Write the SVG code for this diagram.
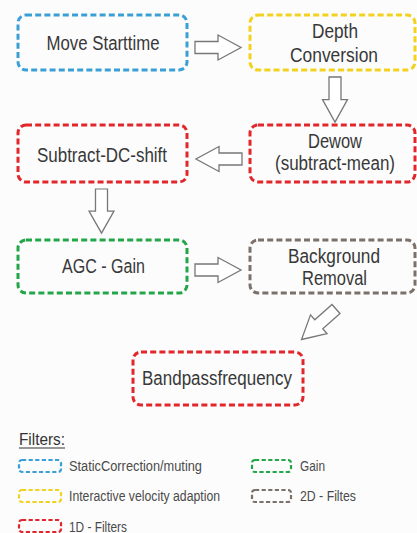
<svg xmlns="http://www.w3.org/2000/svg" width="417" height="533" viewBox="0 0 417 533">
  <defs>
    <style>
      .box { fill: none; stroke-width: 3; stroke-dasharray: 6 3.2; stroke-linecap: butt; }
      .key { fill: none; stroke-width: 2.2; stroke-dasharray: 4.2 2.4; }
      .blue { stroke: #3a9fd6; }
      .yellow { stroke: #f3d11f; }
      .red { stroke: #e1272b; }
      .green { stroke: #23a64a; }
      .brown { stroke: #7b706a; }
      .lbl { font-family: "Liberation Sans", Arial, sans-serif; font-size: 19.5px; fill: #383838; text-anchor: middle; }
      .leg { font-family: "Liberation Sans", Arial, sans-serif; font-size: 14px; fill: #4a4a4a; }
      .arrow { fill: #fff; stroke: #777; stroke-width: 1.3; stroke-linejoin: miter; }
    </style>
    <!-- hollow block arrow pointing along +x, tail at the origin -->
    <path id="blockArrow" d="M0,-6 H23 V-12.5 L46,0 L23,12.5 V6 H0 Z"/>
  </defs>
  <rect width="417" height="533" fill="#fcfcfc"/>

  <g id="connectors">
    <use href="#blockArrow" class="arrow" transform="translate(195,47.5)"/>
    <use href="#blockArrow" class="arrow" transform="translate(335,77) rotate(90) scale(0.98,1)"/>
    <use href="#blockArrow" class="arrow" transform="translate(242,159) rotate(180)"/>
    <use href="#blockArrow" class="arrow" transform="translate(101.5,189) rotate(90) scale(0.96,1)"/>
    <use href="#blockArrow" class="arrow" transform="translate(195,270)"/>
    <use href="#blockArrow" class="arrow" transform="translate(336,309) rotate(138.5)"/>
  </g>

  <g id="move-starttime">
    <rect class="box blue" x="18" y="15" width="169" height="55" rx="8"/>
    <text class="lbl" x="103" y="50" textLength="113" lengthAdjust="spacingAndGlyphs">Move Starttime</text>
  </g>
  <g id="depth-conversion">
    <rect class="box yellow" x="250" y="15" width="165" height="55" rx="8"/>
    <text class="lbl" x="335" y="38" textLength="46" lengthAdjust="spacingAndGlyphs">Depth</text>
    <text class="lbl" x="334" y="62" textLength="88" lengthAdjust="spacingAndGlyphs">Conversion</text>
  </g>
  <g id="subtract-dc-shift">
    <rect class="box red" x="18" y="125" width="169" height="57" rx="8"/>
    <text class="lbl" x="102" y="162" textLength="130" lengthAdjust="spacingAndGlyphs">Subtract-DC-shift</text>
  </g>
  <g id="dewow">
    <rect class="box red" x="250" y="125" width="165" height="57" rx="8"/>
    <text class="lbl" x="335" y="148" textLength="54" lengthAdjust="spacingAndGlyphs">Dewow</text>
    <text class="lbl" x="335" y="170" textLength="120" lengthAdjust="spacingAndGlyphs">(subtract-mean)</text>
  </g>
  <g id="agc-gain">
    <rect class="box green" x="18" y="240" width="169" height="53" rx="8"/>
    <text class="lbl" x="103.5" y="273" textLength="83" lengthAdjust="spacingAndGlyphs">AGC - Gain</text>
  </g>
  <g id="background-removal">
    <rect class="box brown" x="250" y="240" width="165" height="53" rx="8"/>
    <text class="lbl" x="334" y="263" textLength="92" lengthAdjust="spacingAndGlyphs">Background</text>
    <text class="lbl" x="334.5" y="285" textLength="65" lengthAdjust="spacingAndGlyphs">Removal</text>
  </g>
  <g id="bandpassfrequency">
    <rect class="box red" x="133" y="352" width="170" height="53" rx="8"/>
    <text class="lbl" x="217" y="385" textLength="150" lengthAdjust="spacingAndGlyphs">Bandpassfrequency</text>
  </g>

  <g id="legend">
    <text x="19" y="445" font-family="Liberation Sans, Arial, sans-serif" font-size="16" fill="#333" textLength="46" lengthAdjust="spacingAndGlyphs">Filters:</text>
    <line x1="19" y1="448" x2="65" y2="448" stroke="#333" stroke-width="1"/>
    <rect class="key blue" x="19" y="460" width="42" height="12" rx="3"/>
    <text class="leg" x="69" y="471" textLength="133" lengthAdjust="spacingAndGlyphs">StaticCorrection/muting</text>
    <rect class="key yellow" x="19" y="490" width="42" height="12" rx="3"/>
    <text class="leg" x="69" y="500.5" textLength="151" lengthAdjust="spacingAndGlyphs">Interactive velocity adaption</text>
    <rect class="key red" x="19" y="520" width="42" height="12" rx="3"/>
    <text class="leg" x="69" y="531.5" textLength="58" lengthAdjust="spacingAndGlyphs">1D - Filters</text>
    <rect class="key green" x="252" y="460" width="39" height="12" rx="3"/>
    <text class="leg" x="300" y="471" textLength="25" lengthAdjust="spacingAndGlyphs">Gain</text>
    <rect class="key brown" x="252" y="490" width="39" height="12" rx="3"/>
    <text class="leg" x="300" y="500.5" textLength="56" lengthAdjust="spacingAndGlyphs">2D - Filtes</text>
  </g>
</svg>
